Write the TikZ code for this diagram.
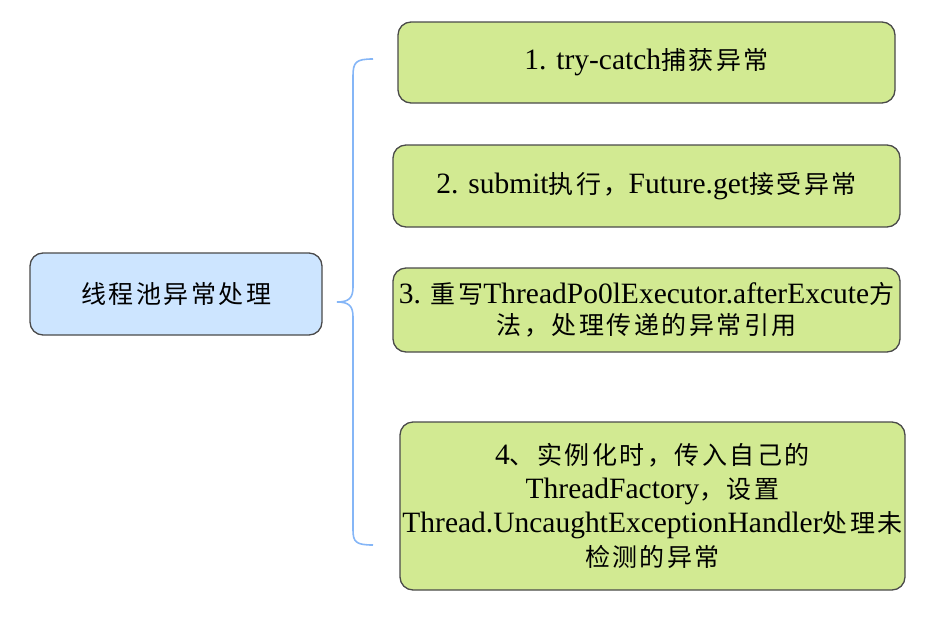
\documentclass[tikz,border=0pt]{standalone}
\usepackage{fontspec}
\setmainfont{Liberation Serif}[Scale=1.18]
\newfontfamily\cjk{Noto Sans CJK SC}[LetterSpace=10]
\newcommand{\zh}[1]{{\cjk #1}}
\definecolor{hojaverde}{HTML}{D2EA92}
\definecolor{raizazul}{HTML}{CDE5FF}
\definecolor{borde}{HTML}{4A4A4A}
\definecolor{llave}{HTML}{85B6F7}

\begin{document}
\begin{tikzpicture}[x=1pt, y=-1pt,
    caja/.style={draw=borde, line width=1.3pt, rounded corners=13pt, align=center,
        inner sep=0pt, font=\fontsize{25}{34}\selectfont},
    hoja/.style={caja, fill=hojaverde},
    raiz/.style={caja, fill=raizazul}]

    % Marco
    \useasboundingbox (0,0) rectangle (950,624);

    % Nodo raíz
    \node[raiz, minimum width=292pt, minimum height=82pt] (root) at (176,294) {\zh{线程池异常处理}};

    % Ramas
    \node[hoja, minimum width=497pt, minimum height=81pt] (try) at (646.5,62.5)
        {1. try-catch\zh{捕获异常}};
    \node[hoja, minimum width=507pt, minimum height=82pt] (submit) at (646.5,186)
        {2. submit\zh{执行，}Future.get\zh{接受异常}};
    \node[hoja, minimum width=507pt, minimum height=84pt, font=\fontsize{25}{31}\selectfont] (after) at (646.5,310)
        {3. \zh{重写}ThreadPo0lExecutor.afterExcute\zh{方}\\\zh{法，处理传递的异常引用}};
    \node[hoja, minimum width=505pt, minimum height=168pt] (factory) at (652.5,506)
        {4\zh{、实例化时，传入自己的}\\ThreadFactory\zh{，设置}\\Thread.UncaughtExceptionHandler\zh{处理未}\\\zh{检测的异常}};

    % Llave
    \coordinate (tip) at (337,302);
    \coordinate (top) at (373,59);
    \coordinate (bot) at (373,545);
    \draw[llave, line width=1.6pt] (top) .. controls (356,59) and (353,62) .. (353,76) -- (353,287)
        .. controls (353,298) and (349,302) .. (tip)
        .. controls (349,302) and (353,306) .. (353,317) -- (353,530)
        .. controls (353,542) and (356,545) .. (bot);

\end{tikzpicture}
\end{document}
